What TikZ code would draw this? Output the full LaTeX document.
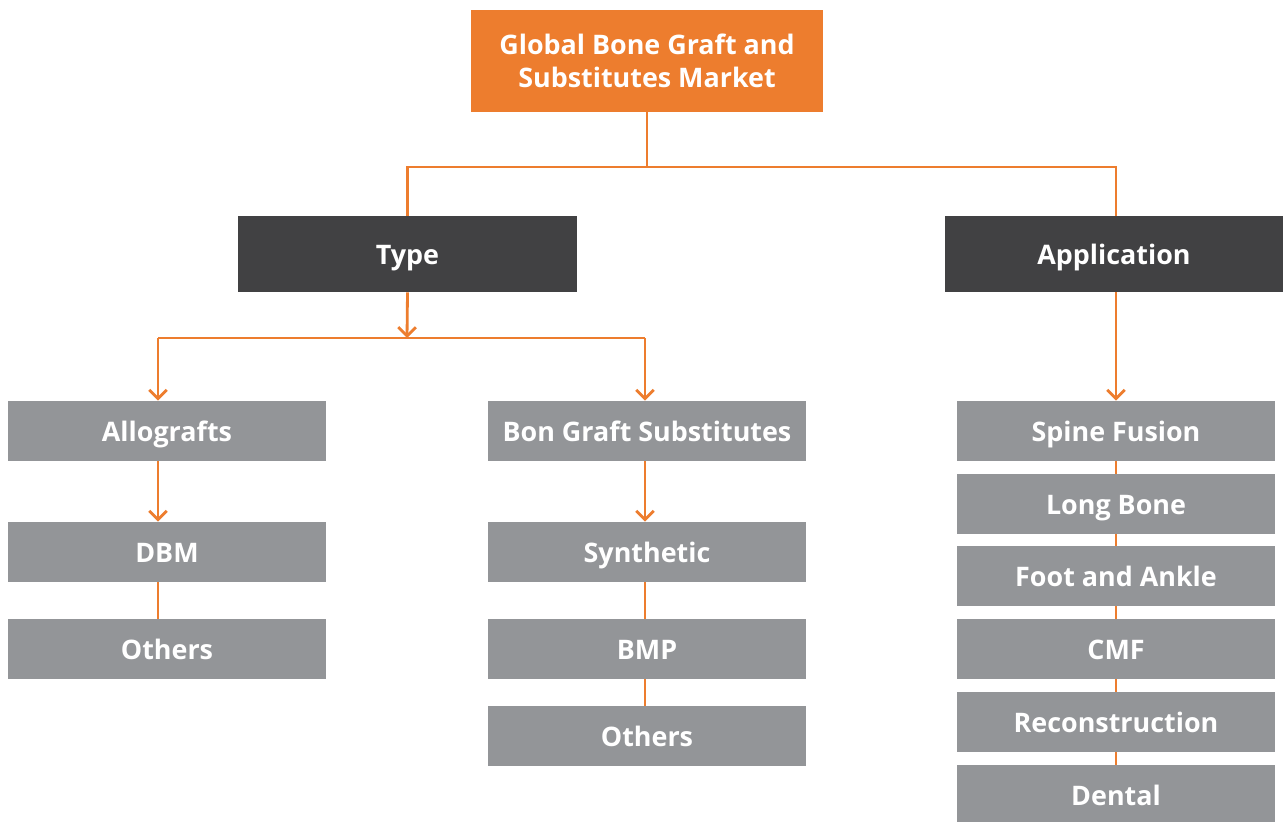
\documentclass[tikz,border=0pt]{standalone}
\usepackage{fontspec}
\setmainfont{Open Sans}
\usetikzlibrary{arrows.meta}
\definecolor{orng}{HTML}{ED7D2E}
\definecolor{dark}{HTML}{414143}
\definecolor{grey}{HTML}{939598}

\begin{document}
\begin{tikzpicture}[x=0.02cm, y=-0.02cm,
    font=\fontsize{15.3}{18.8}\selectfont\bfseries,
    box/.style={fill=grey, text=white, minimum width=6.36cm, minimum height=1.2cm, inner sep=0pt,
                text height=12pt, text depth=0pt},
    head/.style={fill=dark, text=white, minimum width=6.8cm, minimum height=1.52cm, inner sep=0pt,
                text height=12pt, text depth=0pt},
    link/.style={draw=orng, line width=1.6pt},
    arr/.style={link, -{Straight Barb[length=5pt, width=10pt, line width=1.6pt]}}]
    \useasboundingbox (0,0) rectangle (1283,821);   %Rahmen
    % oberste Ebene
    \node [fill=orng, text=white, align=center, minimum width=7.04cm, minimum height=2.04cm, inner sep=0pt] (market) at (647,61) {Global Bone Graft and\\Substitutes Market};
    \node [head] (type) at (407.5,254) {Type};
    \node [head, minimum width=6.76cm] (appl) at (1114,254) {Application};
    % Type-Spalten
    \node [box] (allo) at (167,431) {Allografts};
    \node [box] (dbm) at (167,552) {DBM};
    \node [box] (oth1) at (167,649) {Others};
    \node [box] (subs) at (647,431) {Bon Graft Substitutes};
    \node [box] (synth) at (647,552) {Synthetic};
    \node [box] (bmp) at (647,649) {BMP};
    \node [box] (oth2) at (647,736) {Others};
    % Application-Spalte
    \node [box] (spine) at (1116,431) {Spine Fusion};
    \node [box] (long) at (1116,504) {Long Bone};
    \node [box] (foot) at (1116,576) {Foot and Ankle};
    \node [box] (cmf) at (1116,649) {CMF};
    \node [box] (recon) at (1116,722) {Reconstruction};
    \node [box] (dental) at (1116,795) {Dental};
    % Hilfspunkte
    \coordinate (top) at (647,167);
    \coordinate (mid) at (407,338);
    \coordinate (lft) at (158,338);
    \coordinate (rgt) at (645,338);
    % Verbindungen
    \draw [link] (market.south) -- (top);
    \draw [link] (type.north) |- (top) -| (1116,216);
    \draw [arr] (type.south) -- (mid);
    \draw [link] (lft) -- (rgt);
    \draw [arr] (lft) -- (lft |- allo.north);
    \draw [arr] (rgt) -- (rgt |- subs.north);
    \draw [arr] (1116,292) -- (spine.north);
    \draw [arr] (lft |- allo.south) -- (lft |- dbm.north);
    \draw [link] (lft |- dbm.south) -- (lft |- oth1.north);
    \draw [arr] (rgt |- subs.south) -- (rgt |- synth.north);
    \draw [link] (rgt |- synth.south) -- (rgt |- bmp.north);
    \draw [link] (rgt |- bmp.south) -- (rgt |- oth2.north);
    \foreach \a/\b in {spine/long, long/foot, foot/cmf, cmf/recon, recon/dental}
        \draw [link] (\a.south) -- (\b.north);
\end{tikzpicture}
\end{document}
